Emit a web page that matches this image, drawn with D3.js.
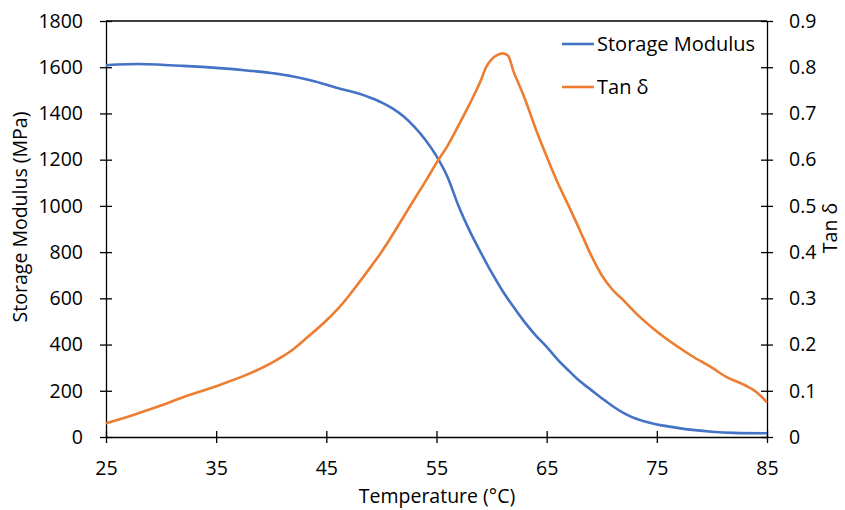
<!DOCTYPE html>
<html>
<head>
<meta charset="utf-8">
<script src="https://cdn.jsdelivr.net/npm/d3@7/dist/d3.min.js"></script>
<style>
  html, body { margin: 0; padding: 0; background: #fff; }
  svg text { font-family: "Open Sans", "Noto Sans", sans-serif; fill: #000; }
</style>
</head>
<body>
<svg id="chart" width="845" height="510"></svg>
<script>
// Storage modulus (MPa) vs temperature (°C)
const smTemp = [25, 26, 28, 30, 32, 35, 38, 40, 42, 44, 46, 48, 49, 50, 51, 52, 53, 54, 55, 56, 57, 58, 59, 60, 61, 62, 63, 64, 65, 66, 67, 68, 69, 70, 71, 72, 73, 74, 75, 76, 78, 80, 82, 85];
const smValues = [1608, 1612, 1614, 1611, 1606, 1597, 1585, 1575, 1560, 1538, 1510, 1485, 1468, 1448, 1422, 1388, 1342, 1285, 1215, 1125, 1000, 893, 800, 712, 632, 562, 497, 440, 390, 335, 287, 242, 205, 168, 133, 103, 81, 66, 54, 46, 32, 23, 18, 16];

// Tan delta vs temperature (°C)
const tanTemp = [25, 27, 29, 30, 32, 35, 38, 40, 41, 42, 43, 45, 46, 47, 48, 49, 50, 51, 52, 53, 54, 55, 56, 57, 58, 59, 59.5, 60, 60.5, 61, 61.5, 62, 62.5, 63, 64, 65, 66, 67, 68, 69, 70, 71, 72, 73, 75, 78, 80, 81.3, 83, 84, 85];
const tanValues = [0.030, 0.044, 0.060, 0.068, 0.086, 0.110, 0.137, 0.160, 0.174, 0.190, 0.210, 0.252, 0.276, 0.304, 0.335, 0.367, 0.400, 0.437, 0.476, 0.515, 0.553, 0.593, 0.630, 0.674, 0.720, 0.770, 0.800, 0.817, 0.826, 0.830, 0.825, 0.790, 0.762, 0.733, 0.667, 0.607, 0.550, 0.500, 0.448, 0.395, 0.350, 0.318, 0.295, 0.270, 0.228, 0.178, 0.150, 0.130, 0.112, 0.098, 0.075];

const xTicks = [25, 35, 45, 55, 65, 75, 85];
const smTicks = [0, 200, 400, 600, 800, 1000, 1200, 1400, 1600, 1800];
const tanTicks = [0, 0.1, 0.2, 0.3, 0.4, 0.5, 0.6, 0.7, 0.8, 0.9];

const seriesNames = ["Storage Modulus", "Tan δ"];
const seriesColors = ["#4472C4", "#ED7D31"];

const svg = d3.select("#chart");
const L = 106, R = 767, T = 21, B = 437;

const x = d3.scaleLinear().domain([25, 85]).range([L, R]);
const yL = d3.scaleLinear().domain([0, 1800]).range([B, T]);
const yR = d3.scaleLinear().domain([0, 0.9]).range([B, T]);

const axisColor = "#000";
const tickFont = 19.5;
const titleFont = 19.5;

// Top border line
svg.append("line").attr("x1", L).attr("x2", R).attr("y1", T).attr("y2", T)
  .attr("stroke", axisColor).attr("stroke-width", 1.3);

// Left axis
const gL = svg.append("g").attr("transform", `translate(${L},0)`)
  .call(d3.axisLeft(yL).tickValues(smTicks).tickFormat(d3.format("d")).tickSize(6).tickSizeOuter(0).tickPadding(17));
gL.selectAll(".tick line").attr("x2", 6).attr("x1", -6);
// Right axis
const gR = svg.append("g").attr("transform", `translate(${R},0)`)
  .call(d3.axisRight(yR).tickValues(tanTicks).tickFormat(d => d === 0 ? "0" : d3.format(".1f")(d)).tickSize(6).tickSizeOuter(0).tickPadding(16));
gR.selectAll(".tick line").attr("x1", -6).attr("x2", 6);
// Bottom axis
const gB = svg.append("g").attr("transform", `translate(0,${B})`)
  .call(d3.axisBottom(x).tickValues(xTicks).tickFormat(d3.format("d")).tickSize(6).tickSizeOuter(0).tickPadding(18));
gB.selectAll(".tick line").attr("y1", -6).attr("y2", 6);

[gL, gR, gB].forEach(g => {
  g.attr("font-family", null).attr("font-size", null);
  g.select(".domain").attr("stroke", axisColor).attr("stroke-width", 1.3);
  g.selectAll(".tick line").attr("stroke", axisColor).attr("stroke-width", 1.3);
  g.selectAll(".tick text").attr("font-size", tickFont).attr("fill", "#000");
});

// Lines
const smData = smTemp.map((t, i) => [t, smValues[i]]);
const tanData = tanTemp.map((t, i) => [t, tanValues[i]]);

svg.append("path").datum(smData)
  .attr("fill", "none").attr("stroke", seriesColors[0]).attr("stroke-width", 2.6)
  .attr("stroke-linejoin", "round")
  .attr("d", d3.line().x(d => x(d[0])).y(d => yL(d[1])).curve(d3.curveMonotoneX));

svg.append("path").datum(tanData)
  .attr("fill", "none").attr("stroke", seriesColors[1]).attr("stroke-width", 2.6)
  .attr("stroke-linejoin", "round")
  .attr("d", d3.line().x(d => x(d[0])).y(d => yR(d[1])).curve(d3.curveMonotoneX));

// Axis titles
svg.append("text").attr("transform", `translate(27,217) rotate(-90)`)
  .attr("text-anchor", "middle").attr("font-size", titleFont).text("Storage Modulus (MPa)");
svg.append("text").attr("transform", `translate(837,228) rotate(-90)`)
  .attr("text-anchor", "middle").attr("font-size", titleFont).text("Tan δ");
svg.append("text").attr("x", 437).attr("y", 503)
  .attr("text-anchor", "middle").attr("font-size", titleFont).text("Temperature (°C)");

// Legend
const legend = svg.append("g");
seriesNames.forEach((name, i) => {
  const ly = 44 + i * 43;
  legend.append("line").attr("x1", 562).attr("x2", 594).attr("y1", ly).attr("y2", ly)
    .attr("stroke", seriesColors[i]).attr("stroke-width", 2.6);
  legend.append("text").attr("x", 597).attr("y", ly).attr("dy", "0.35em")
    .attr("font-size", 20).text(name);
});
</script>
</body>
</html>
